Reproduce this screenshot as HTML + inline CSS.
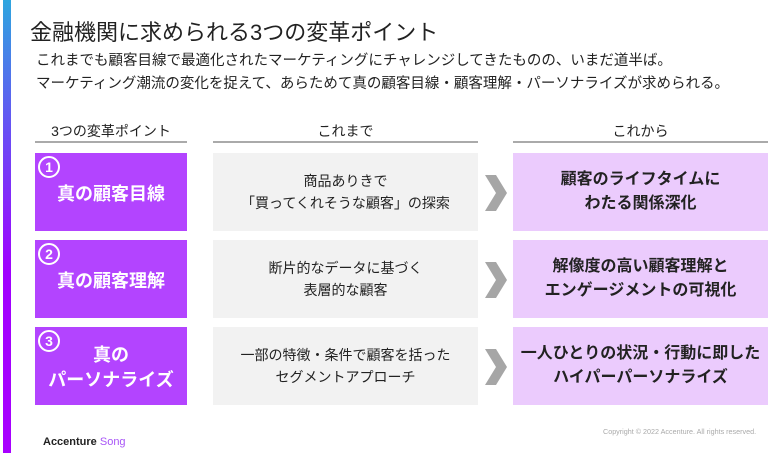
<!DOCTYPE html>
<html><head><meta charset="utf-8"><style>
*{margin:0;padding:0;box-sizing:border-box}
body{width:768px;height:453px;background:#fff;position:relative;overflow:hidden;font-family:"Liberation Sans","Noto Sans CJK JP",sans-serif;color:#222}
.a{position:absolute}
.bar{left:3px;top:0;width:8px;height:453px;background:linear-gradient(#2ea6df,#6a4cf5 30%,#a000ff 60%,#a800ff)}
.t{left:30px;top:15px;font-size:22px;color:#222;white-space:nowrap}
.s{left:36px;top:50px;font-size:14.5px;line-height:23px;white-space:nowrap}
.h{font-size:14px;text-align:center;top:121px;height:22px;border-bottom:2px solid #aaa}
.p{left:35px;width:152px;height:78px;background:#b344ff;color:#fff;font-weight:bold;font-size:18px;text-align:center;display:flex;align-items:center;justify-content:center;line-height:25px;padding-top:4px}
.c{position:absolute;left:3px;top:3px;width:22px;height:22px;border:2px solid #fff;border-radius:50%;font-size:14px;line-height:18px;text-align:center}
.g{left:213px;width:265px;height:78px;background:#f2f2f2;font-size:14px;display:flex;align-items:center;justify-content:center;text-align:center;line-height:22px}
.r{left:513px;width:255px;height:78px;background:#ebcbfd;font-weight:bold;font-size:16px;display:flex;align-items:center;justify-content:center;text-align:center;line-height:24px}
.ar{left:485px;width:22px;height:36px}
</style></head><body>
<div class="a bar"></div>
<div class="a t">金融機関に求められる3つの変革ポイント</div>
<div class="a s">これまでも顧客目線で最適化されたマーケティングにチャレンジしてきたものの、いまだ道半ば。<br>マーケティング潮流の変化を捉えて、あらためて真の顧客目線・顧客理解・パーソナライズが求められる。</div>
<div class="a h" style="left:35px;width:152px">3つの変革ポイント</div>
<div class="a h" style="left:213px;width:265px">これまで</div>
<div class="a h" style="left:513px;width:255px">これから</div>

<div class="a p" style="top:153px"><span class="c">1</span>真の顧客目線</div>
<div class="a p" style="top:240px"><span class="c">2</span>真の顧客理解</div>
<div class="a p" style="top:327px"><span class="c">3</span>真の<br>パーソナライズ</div>

<div class="a g" style="top:153px">商品ありきで<br>「買ってくれそうな顧客」の探索</div>
<div class="a g" style="top:240px">断片的なデータに基づく<br>表層的な顧客</div>
<div class="a g" style="top:327px">一部の特徴・条件で顧客を括った<br>セグメントアプローチ</div>

<svg class="a ar" style="top:175px" viewBox="0 0 22 36"><polygon points="0,0 11,0 22,18 11,36 0,36 11,18" fill="#a6a6a6"/></svg>
<svg class="a ar" style="top:262px" viewBox="0 0 22 36"><polygon points="0,0 11,0 22,18 11,36 0,36 11,18" fill="#a6a6a6"/></svg>
<svg class="a ar" style="top:349px" viewBox="0 0 22 36"><polygon points="0,0 11,0 22,18 11,36 0,36 11,18" fill="#a6a6a6"/></svg>

<div class="a r" style="top:153px">顧客のライフタイムに<br>わたる関係深化</div>
<div class="a r" style="top:240px">解像度の高い顧客理解と<br>エンゲージメントの可視化</div>
<div class="a r" style="top:327px">一人ひとりの状況・行動に即した<br>ハイパーパーソナライズ</div>

<div class="a" style="left:603px;top:427px;font-size:7.2px;color:#aaa;white-space:nowrap">Copyright © 2022 Accenture. All rights reserved.</div>
<div class="a" style="left:43px;top:436px;font-size:11px;font-weight:bold;white-space:nowrap">Accenture <span style="color:#a855f7;font-weight:normal">Song</span></div>
</body></html>
